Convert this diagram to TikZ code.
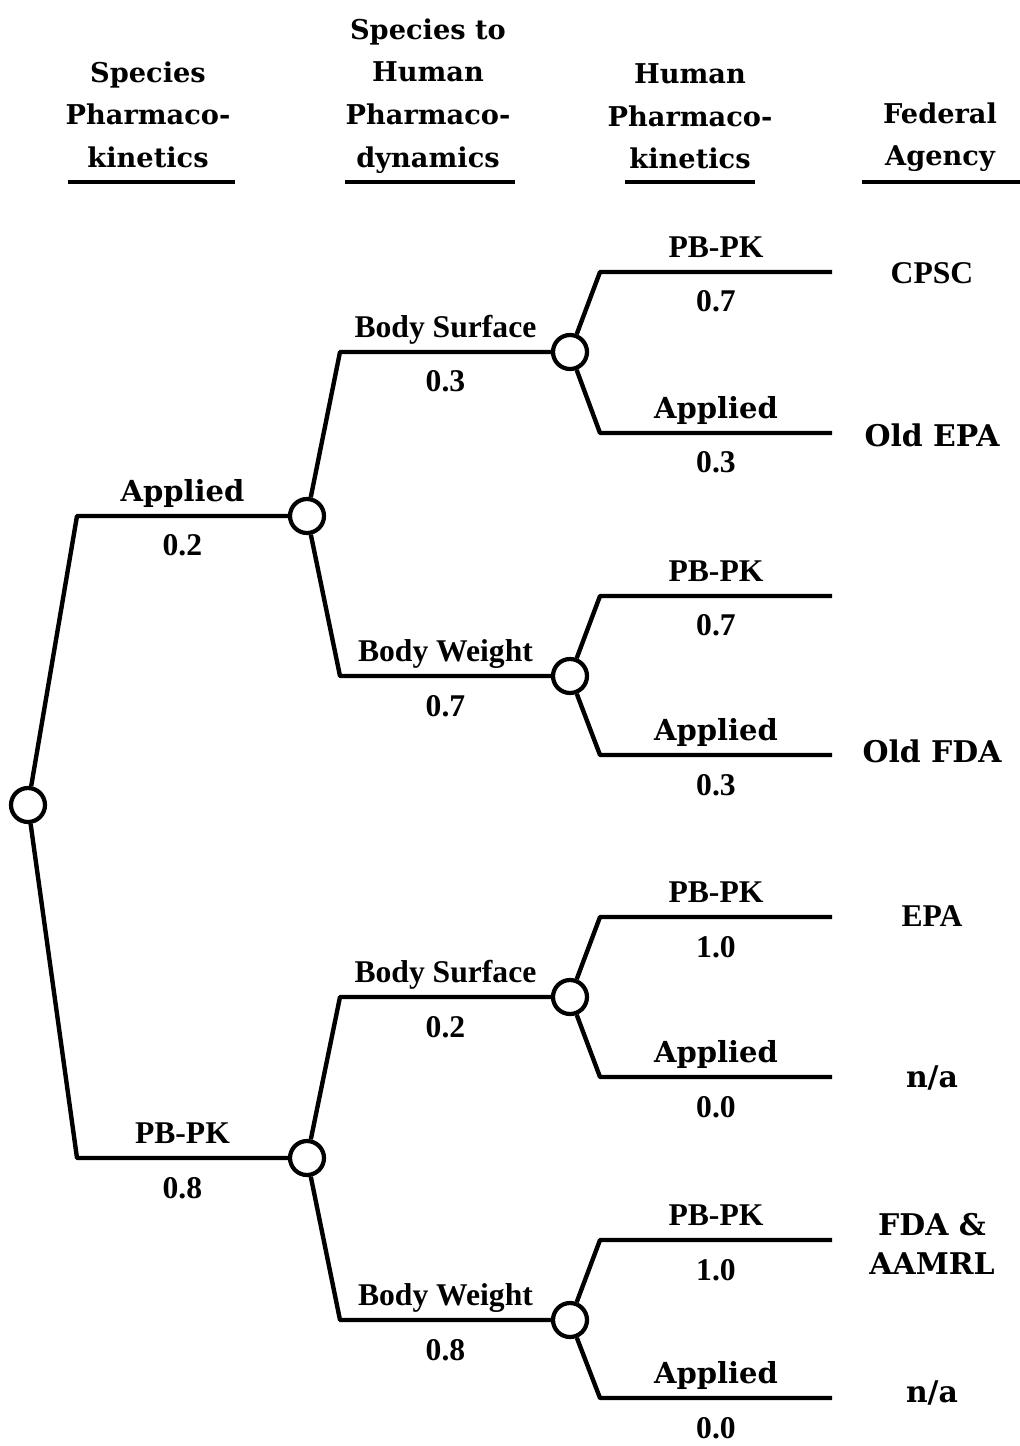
\documentclass[tikz,border=0pt]{standalone}
\usepackage{fontspec}
\setmainfont{Liberation Serif}
\newfontfamily\slabfont{DejaVu Serif}
\usepackage{tikz}
\usetikzlibrary{positioning}

\tikzset{
  chance/.style={circle, draw, line width=2.4pt, fill=white, minimum size=0.68cm, inner sep=0},
  branch/.style={line width=2.5pt, line join=round},
  rule/.style={line width=2.8pt},
  slablbl/.style={font=\slabfont\bfseries\fontsize{16.5}{20}\selectfont, anchor=base, inner sep=0},
  romlbl/.style={font=\bfseries\fontsize{18}{20}\selectfont, anchor=base, inner sep=0},
  problbl/.style={font=\bfseries\fontsize{18}{20}\selectfont, anchor=base, inner sep=0, yshift=-0.8cm},
  uplbl/.style={yshift=0.3cm},
  header/.style={font=\slabfont\bfseries\fontsize{15.5}{24.4}\selectfont, align=center, anchor=north, inner sep=0},
  agency/.style={font=\slabfont\bfseries\fontsize{17}{22}\selectfont, align=center, inner sep=0}
}

\begin{document}
\begin{tikzpicture}[x=0.02cm, y=-0.02cm]
  \useasboundingbox (0,0) rectangle (1020,1446);

  % column heads
  \node[header] (h1) at (148,61) {Species\\Pharmaco-\\kinetics};
  \node[header] (h2) at (428,18) {Species to\\Human\\Pharmaco-\\dynamics};
  \node[header] (h3) at (690,63) {Human\\Pharmaco-\\kinetics};
  \node[header] (h4) at (940,102) {Federal\\Agency};
  \draw[rule] (68,182) -- (235,182);
  \draw[rule] (345,182) -- (515,182);
  \draw[rule] (625,182) -- (755,182);
  \draw[rule] (862,182) -- (1020,182);

  % chance nodes
  \node[chance] (root) at (28,805) {};
  \node[chance] (a) at (307,516) {};
  \node[chance] (p) at (307,1158) {};
  \node[chance] (as) at (570,352) {};
  \node[chance] (aw) at (570,676) {};
  \node[chance] (ps) at (570,997) {};
  \node[chance] (pw) at (570,1320) {};

  % corners
  \coordinate (ka) at (77,516);
  \coordinate (kp) at (77,1158);
  \coordinate (kas) at (340,352);
  \coordinate (kaw) at (340,676);
  \coordinate (kps) at (340,997);
  \coordinate (kpw) at (340,1320);
  \coordinate (kas1) at (600,272);
  \coordinate (kas2) at (600,433);
  \coordinate (kaw1) at (600,596);
  \coordinate (kaw2) at (600,755);
  \coordinate (kps1) at (600,917);
  \coordinate (kps2) at (600,1077);
  \coordinate (kpw1) at (600,1240);
  \coordinate (kpw2) at (600,1398);
  % leaf ends
  \coordinate (eas1) at (832,272);
  \coordinate (eas2) at (832,433);
  \coordinate (eaw1) at (832,596);
  \coordinate (eaw2) at (832,755);
  \coordinate (eps1) at (832,917);
  \coordinate (eps2) at (832,1077);
  \coordinate (epw1) at (832,1240);
  \coordinate (epw2) at (832,1398);

  % species pharmacokinetics
  \draw[branch] (root) -- (ka) -- (a);
  \draw[branch] (root) -- (kp) -- (p);
  \path (ka) -- (a) node[midway, slablbl, uplbl] (la) {Applied} node[midway, problbl] (pa) {0.2};
  \path (kp) -- (p) node[midway, romlbl, uplbl] (lp) {PB-PK} node[midway, problbl] (pp) {0.8};

  % species to human pharmacodynamics
  \draw[branch] (a) -- (kas) -- (as);
  \draw[branch] (a) -- (kaw) -- (aw);
  \draw[branch] (p) -- (kps) -- (ps);
  \draw[branch] (p) -- (kpw) -- (pw);
  \path (kas) -- (as) node[midway, romlbl, uplbl] (las) {Body Surface} node[midway, problbl] (pas) {0.3};
  \path (kaw) -- (aw) node[midway, romlbl, uplbl] (law) {Body Weight} node[midway, problbl] (paw) {0.7};
  \path (kps) -- (ps) node[midway, romlbl, uplbl] (lps) {Body Surface} node[midway, problbl] (pps) {0.2};
  \path (kpw) -- (pw) node[midway, romlbl, uplbl] (lpw) {Body Weight} node[midway, problbl] (ppw) {0.8};

  % human pharmacokinetics
  \draw[branch] (as) -- (kas1) -- (eas1);
  \draw[branch] (as) -- (kas2) -- (eas2);
  \draw[branch] (aw) -- (kaw1) -- (eaw1);
  \draw[branch] (aw) -- (kaw2) -- (eaw2);
  \draw[branch] (ps) -- (kps1) -- (eps1);
  \draw[branch] (ps) -- (kps2) -- (eps2);
  \draw[branch] (pw) -- (kpw1) -- (epw1);
  \draw[branch] (pw) -- (kpw2) -- (epw2);
  \path (kas1) -- (eas1) node[midway, romlbl, uplbl] (las1) {PB-PK} node[midway, problbl] (pas1) {0.7};
  \path (kas2) -- (eas2) node[midway, slablbl, uplbl] (las2) {Applied} node[midway, problbl] (pas2) {0.3};
  \path (kaw1) -- (eaw1) node[midway, romlbl, uplbl] (law1) {PB-PK} node[midway, problbl] (paw1) {0.7};
  \path (kaw2) -- (eaw2) node[midway, slablbl, uplbl] (law2) {Applied} node[midway, problbl] (paw2) {0.3};
  \path (kps1) -- (eps1) node[midway, romlbl, uplbl] (lps1) {PB-PK} node[midway, problbl] (pps1) {1.0};
  \path (kps2) -- (eps2) node[midway, slablbl, uplbl] (lps2) {Applied} node[midway, problbl] (pps2) {0.0};
  \path (kpw1) -- (epw1) node[midway, romlbl, uplbl] (lpw1) {PB-PK} node[midway, problbl] (ppw1) {1.0};
  \path (kpw2) -- (epw2) node[midway, slablbl, uplbl] (lpw2) {Applied} node[midway, problbl] (ppw2) {0.0};

  % federal agency
  \node[romlbl] (ag1) at (932,283) {CPSC};
  \node[agency, anchor=base] (ag2) at (932,446) {Old EPA};
  \node[agency, anchor=base] (ag3) at (932,762) {Old FDA};
  \node[romlbl] (ag4) at (932,926) {EPA};
  \node[agency, anchor=base] (ag5) at (932,1087) {n/a};
  \node[agency] (ag6) at (932,1244) {FDA \&\\AAMRL};
  \node[agency, anchor=base] (ag7) at (932,1402) {n/a};
\end{tikzpicture}
\end{document}
